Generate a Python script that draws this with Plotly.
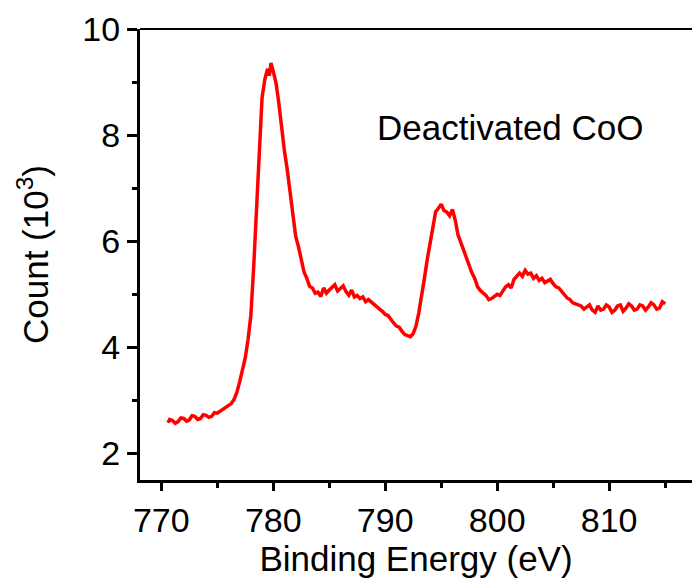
import plotly.graph_objects as go

binding_energy = [
    770.6, 770.75, 771.0, 771.25, 771.5, 771.75, 772.0, 772.25, 772.5, 772.75,
    773.0, 773.25, 773.5, 773.75, 774.0, 774.25, 774.5, 774.75, 775.0, 775.25,
    775.5, 775.75, 776.0, 776.25, 776.5, 776.75, 777.0, 777.25, 777.5, 777.75,
    778.0, 778.25, 778.5, 778.75, 779.0, 779.25, 779.5, 779.65, 779.8, 780.0,
    780.25, 780.5, 780.75, 781.0, 781.25, 781.5, 781.75, 782.0, 782.25, 782.5,
    782.75, 783.0, 783.25, 783.5, 783.75, 784.0, 784.25, 784.5, 784.75, 785.0,
    785.25, 785.5, 785.75, 786.0, 786.25, 786.5, 786.75, 787.0, 787.25, 787.5,
    787.75, 788.0, 788.25, 788.5, 788.75, 789.0, 789.25, 789.5, 789.75, 790.0,
    790.25, 790.5, 790.75, 791.0, 791.25, 791.5, 791.75, 792.0, 792.25, 792.5,
    792.75, 793.0, 793.25, 793.5, 793.75, 794.0, 794.25, 794.5, 794.75, 795.0,
    795.25, 795.5, 795.75, 796.0, 796.25, 796.5, 796.75, 797.0, 797.25, 797.5,
    797.75, 798.0, 798.25, 798.5, 798.75, 799.0, 799.25, 799.5, 799.75, 800.0,
    800.25, 800.5, 800.75, 801.0, 801.25, 801.5, 801.75, 802.0, 802.25, 802.5,
    802.75, 803.0, 803.25, 803.5, 803.75, 804.0, 804.25, 804.5, 804.75, 805.0,
    805.25, 805.5, 805.75, 806.0, 806.25, 806.5, 806.75, 807.0, 807.25, 807.5,
    807.75, 808.0, 808.25, 808.5, 808.75, 809.0, 809.25, 809.5, 809.75, 810.0,
    810.25, 810.5, 810.75, 811.0, 811.25, 811.5, 811.75, 812.0, 812.25, 812.5,
    812.75, 813.0, 813.25, 813.5, 813.75, 814.0, 814.25, 814.5, 814.75, 815.0,
]
count_k = [
    2.58, 2.64, 2.62, 2.57, 2.60, 2.67, 2.66, 2.61, 2.63, 2.71,
    2.70, 2.64, 2.66, 2.73, 2.72, 2.68, 2.70, 2.77, 2.76, 2.80,
    2.82, 2.88, 2.90, 2.94, 3.02, 3.15, 3.35, 3.55, 3.80, 4.15,
    4.60, 5.50, 6.60, 7.75, 8.70, 9.05, 9.25, 9.12, 9.36, 9.20,
    8.98, 8.60, 8.12, 7.70, 7.35, 6.90, 6.45, 6.10, 5.90, 5.65,
    5.42, 5.30, 5.15, 5.12, 5.02, 5.04, 4.96, 5.12, 5.02, 5.08,
    5.14, 5.18, 5.06, 5.12, 5.16, 5.05, 4.98, 5.08, 4.95, 4.98,
    4.92, 4.95, 4.86, 4.90, 4.85, 4.82, 4.76, 4.72, 4.68, 4.62,
    4.60, 4.52, 4.46, 4.40, 4.38, 4.30, 4.24, 4.22, 4.20, 4.26,
    4.40, 4.65, 4.95, 5.30, 5.65, 5.95, 6.30, 6.55, 6.62, 6.70,
    6.58, 6.55, 6.48, 6.60, 6.40, 6.12, 5.98, 5.83, 5.72, 5.55,
    5.40, 5.30, 5.14, 5.07, 5.02, 4.98, 4.90, 4.92, 4.96, 5.00,
    4.98, 5.06, 5.14, 5.18, 5.12, 5.28, 5.34, 5.40, 5.34, 5.45,
    5.38, 5.40, 5.30, 5.35, 5.26, 5.30, 5.22, 5.25, 5.28, 5.20,
    5.14, 5.12, 5.05, 5.00, 4.93, 4.90, 4.84, 4.82, 4.80, 4.78,
    4.72, 4.76, 4.80, 4.70, 4.66, 4.78, 4.70, 4.72, 4.80, 4.76,
    4.66, 4.70, 4.78, 4.80, 4.68, 4.74, 4.82, 4.78, 4.70, 4.72,
    4.80, 4.78, 4.70, 4.76, 4.84, 4.80, 4.72, 4.74, 4.86, 4.82,
]

x_ticks = [770, 780, 790, 800, 810]
y_ticks = [2, 4, 6, 8, 10]

FONT = "Liberation Sans, Arial, sans-serif"

fig = go.Figure()
fig.add_trace(go.Scatter(
    x=binding_energy, y=count_k, mode="lines",
    line=dict(color="#FF0000", width=3.5), showlegend=False,
))

fig.update_layout(
    width=692, height=579,
    margin=dict(l=140, r=0, t=29, b=99, autoexpand=False),
    paper_bgcolor="white", plot_bgcolor="white",
    font=dict(family=FONT, color="black", size=34),
    xaxis=dict(
        range=[768.1, 817.4], tickvals=x_ticks, ticks="outside",
        ticklen=8, tickwidth=3, tickcolor="black",
        minor=dict(dtick=5, tick0=770, ticks="outside", ticklen=5, tickwidth=3, tickcolor="black"),
        showline=True, linewidth=3, linecolor="black", showgrid=False, zeroline=False,
        tickfont=dict(size=34), title=dict(text="Binding Energy (eV)", font=dict(size=35), standoff=8),
    ),
    yaxis=dict(
        range=[1.5, 10.0], tickvals=y_ticks, ticks="outside",
        ticklen=10, tickwidth=3, tickcolor="black",
        minor=dict(dtick=1, tick0=2, ticks="outside", ticklen=5, tickwidth=3, tickcolor="black"),
        showline=True, linewidth=3, linecolor="black", showgrid=False, zeroline=False,
        tickfont=dict(size=34), title=dict(text="Count (10<sup>3</sup>)", font=dict(size=35), standoff=24),
    ),
    shapes=[dict(type="line", xref="paper", yref="paper", x0=0, x1=1, y0=1, y1=1,
                 line=dict(color="black", width=2))],
    annotations=[dict(
        x=801.2, y=8.15, xref="x", yref="y", text="Deactivated CoO", showarrow=False,
        font=dict(size=35), xanchor="center", yanchor="middle",
    )],
)

fig.write_html("out.html", config={"displayModeBar": False},
               post_script="document.body.style.margin='0';")
